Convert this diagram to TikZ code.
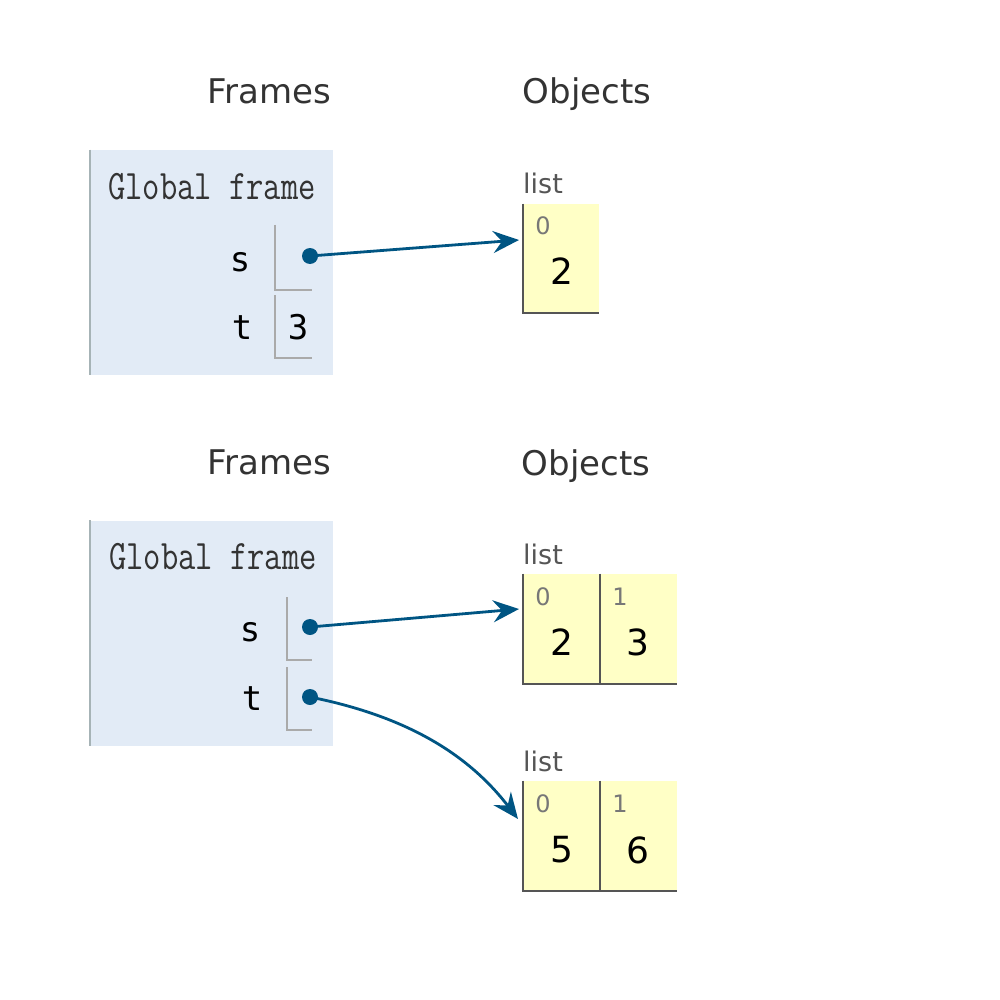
\documentclass[tikz,border=0pt]{standalone}
\usepackage{fontspec}
\usepackage{graphicx}
\usetikzlibrary{arrows.meta}
\newfontfamily\headfont{DejaVu Sans}
\newfontfamily\varfont{DejaVu Sans Mono}
\definecolor{framebg}{HTML}{E2EBF6}
\definecolor{frameedge}{HTML}{A6B3B6}
\definecolor{heapbg}{HTML}{FFFFC6}
\definecolor{heapedge}{HTML}{555555}
\definecolor{ptr}{HTML}{005583}
\definecolor{headtxt}{HTML}{333333}
\definecolor{idxtxt}{HTML}{777777}
\definecolor{valedge}{HTML}{AAAAAA}
\tikzset{
  x=0.5pt, y=-0.5pt,
  heading/.style={inner sep=0pt, font=\headfont\fontsize{17}{20}\selectfont, text=headtxt},
  headbase/.style={heading, anchor=base},
  frametitle/.style={inner sep=0pt, font=\ttfamily\fontsize{16.8}{20}\selectfont, text=black!80},
  varname/.style={inner sep=0pt, font=\varfont\fontsize{17}{20}\selectfont},
  listlabel/.style={inner sep=0pt, font=\headfont\fontsize{13.5}{16}\selectfont, text=heapedge},
  idx/.style={inner sep=0pt, font=\headfont\fontsize{12}{14}\selectfont, text=idxtxt},
  val/.style={inner sep=0pt, font=\headfont\fontsize{18}{20}\selectfont},
  cell/.style={draw=none, fill=heapbg, inner sep=0pt, minimum width=38.5pt, minimum height=55pt},
  frame/.style={draw=none, fill=framebg, inner sep=0pt, minimum width=121pt, minimum height=112.5pt},
  dot/.style={circle, fill=ptr, inner sep=0pt, minimum size=8pt},
  ptrarrow/.style={draw=ptr, line width=1.4pt, -{Stealth[length=13pt, width=11pt, inset=4.5pt]}},
  heapline/.style={draw=heapedge, line width=1pt},
  valline/.style={draw=valedge, line width=1pt},
  frameline/.style={draw=frameedge, line width=1.3pt},
}
\begin{document}
\begin{tikzpicture}
\useasboundingbox (0,0) rectangle (1000,1000);
% ---------- top panel ----------
\node[heading] (fr1) at (269,91) {Frames};
\node[headbase] (ob1) at (587,104) {Objects};
\node[frame] (gf1) at (211.5,262.5) {};
\draw[frameline] (gf1.north west) -- (gf1.south west);
\node[frametitle] (gt1) at (212,187) {\scalebox{1}[1.25]{Global frame}};
\node[varname] (s1) at (240,262) {s};
\node[varname] (t1) at (242,328) {t};
\coordinate (s1v) at (275,225);
\coordinate (s1c) at (275,290);
\coordinate (s1e) at (312,290);
\draw[valline] (s1v) -- (s1c) -- (s1e);
\coordinate (t1v) at (275,295);
\coordinate (t1c) at (275,358);
\coordinate (t1e) at (312,358);
\draw[valline] (t1v) -- (t1c) -- (t1e);
\node[varname] (t1val) at (298,327) {3};
\node[dot] (s1dot) at (310,256) {};
% list
\node[listlabel] (ll1) at (543,183) {list};
\node[cell, minimum width=38pt, minimum height=54.5pt] (a0) at (561,258.5) {};
\draw[heapline] (a0.north west) -- (a0.south west) -- (a0.south east);
\node[idx] (a0i) at (543,226) {0};
\node[val] (a0v) at (562,271) {2};
\coordinate (a0in) at (519,240);
\draw[ptrarrow] (s1dot.center) -- (a0in);
% ---------- bottom panel ----------
\node[heading] (fr2) at (269,462) {Frames};
\node[headbase] (ob2) at (586,475) {Objects};
\node[frame] (gf2) at (211.5,633) {};
\draw[frameline] (gf2.north west) -- (gf2.south west);
\node[frametitle] (gt2) at (213,557) {\scalebox{1}[1.25]{Global frame}};
\node[varname] (s2) at (250,632) {s};
\node[varname] (t2) at (252,699) {t};
\coordinate (s2v) at (287,597);
\coordinate (s2c) at (287,660);
\coordinate (s2e) at (312,660);
\draw[valline] (s2v) -- (s2c) -- (s2e);
\coordinate (t2v) at (287,667);
\coordinate (t2c) at (287,730);
\coordinate (t2e) at (312,730);
\draw[valline] (t2v) -- (t2c) -- (t2e);
\node[dot] (s2dot) at (310,627) {};
\node[dot] (t2dot) at (310,697) {};
% list [2,3]
\node[listlabel] (ll2) at (543,554) {list};
\node[cell] (b0) at (561.5,629) {};
\node[cell] (b1) at (638.5,629) {};
\draw[heapline] (b0.north west) -- (b0.south west) -- (b1.south east);
\draw[heapline] (b1.north west) -- (b1.south west);
\node[idx] (b0i) at (543,597) {0};
\node[idx] (b1i) at (620,597) {1};
\node[val] (b0v) at (562,642) {2};
\node[val] (b1v) at (638,642) {3};
% list [5,6]
\node[listlabel] (ll3) at (543,761) {list};
\node[cell] (c0) at (561.5,836) {};
\node[cell] (c1) at (638.5,836) {};
\draw[heapline] (c0.north west) -- (c0.south west) -- (c1.south east);
\draw[heapline] (c1.north west) -- (c1.south west);
\node[idx] (c0i) at (543,804) {0};
\node[idx] (c1i) at (620,804) {1};
\node[val] (c0v) at (562,850) {5};
\node[val] (c1v) at (638,850) {6};
% pointers
\coordinate (b0in) at (519,609);
\coordinate (c0in) at (518,819);
\draw[ptrarrow] (s2dot.center) -- (b0in);
\draw[ptrarrow] (t2dot.center) .. controls (400,715) and (465,750) .. (c0in);
\end{tikzpicture}
\end{document}
